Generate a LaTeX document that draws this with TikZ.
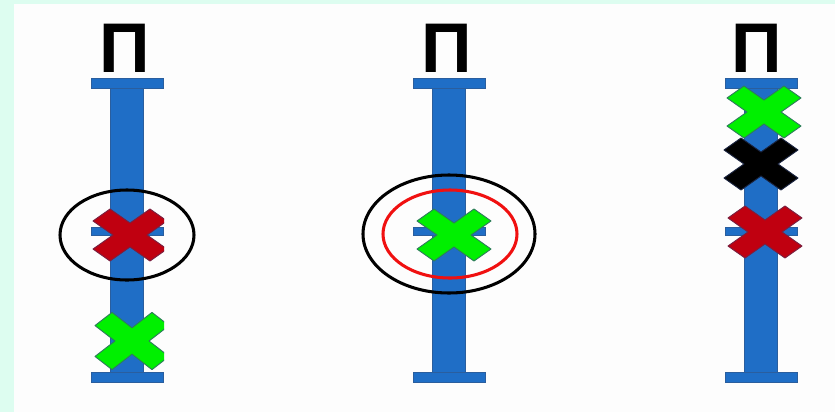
\documentclass[tikz,border=0pt]{standalone}
\definecolor{PanelMint}{HTML}{DDFDF0}
\definecolor{PanelWhite}{HTML}{FDFDFD}
\definecolor{BarBlue}{HTML}{1F6EC6}
\definecolor{BarEdge}{HTML}{2A5E9E}
\definecolor{MarkGreen}{HTML}{00F000}
\definecolor{MarkGreenEdge}{HTML}{2E7D5B}
\definecolor{MarkRed}{HTML}{C00010}
\definecolor{MarkRedEdge}{HTML}{7A2040}
\definecolor{MarkBlack}{HTML}{000000}
\definecolor{MarkBlackEdge}{HTML}{1A2440}
\definecolor{RingRed}{HTML}{F01010}
\usepackage{fontspec}
\setmainfont{Liberation Sans}
\usepackage{tikz}
\usetikzlibrary{positioning,calc}
\tikzset{
    % Blue stands
    stand/.style={
        fill=BarBlue,
        draw=BarEdge,
        line width=0.3pt
    },
    % Letter above each stand
    letter/.style={
        inner sep=0pt,
        anchor=base,
        font=\fontsize{60}{60}\selectfont\bfseries,
        text=black
    },
    % Crosses
    xmark/.pic={
        \filldraw[line width=0.8pt, line join=round]
            (0,0.46*\ymk) -- (0.54*\xmk,\ymk) -- (\xmk,0.54*\ymk) -- (0.46*\xmk,0)
            -- (\xmk,-0.54*\ymk) -- (0.54*\xmk,-\ymk) -- (0,-0.46*\ymk)
            -- (-0.54*\xmk,-\ymk) -- (-\xmk,-0.54*\ymk) -- (-0.46*\xmk,0)
            -- (-\xmk,0.54*\ymk) -- (-0.54*\xmk,\ymk) -- cycle;
    },
    green mark/.style={fill=MarkGreen, draw=MarkGreenEdge},
    red mark/.style={fill=MarkRed, draw=MarkRedEdge},
    black mark/.style={fill=MarkBlack, draw=MarkBlackEdge},
    % Rings
    ring/.style={
        draw=black,
        line width=2.6pt
    },
    ring red/.style={
        ring,
        draw=RingRed
    }
}
\newcommand{\xmk}{37}
\newcommand{\ymk}{26}
% one stand: centre x
\newcommand{\standat}[1]{%
    \fill[stand] (#1-16.5,86) rectangle (#1+16.5,374);
    \fill[stand] (#1-36,78) rectangle (#1+36,88);
    \fill[stand] (#1-36,372) rectangle (#1+36,382);
    \fill[stand] (#1-36,227) rectangle (#1+36,235);
}
\begin{document}
\begin{tikzpicture}[x=0.03cm, y=-0.03cm]
        % Panel
        \fill[PanelMint] (0,0) rectangle (835,412);
        \fill[PanelWhite] (14,4) rectangle (835,412);
        \useasboundingbox (0,0) rectangle (835,412);

        % Letters
        \node[letter] (pe1) at (125,72) {П};
        \node[letter] (pe2) at (447,72) {П};
        \node[letter] (pe3) at (757,72) {П};

        % Stands
        \standat{127}
        \standat{449}
        \standat{761}

        % Left stand
        \draw[ring] (127,235) ellipse [x radius=67, y radius=45];
        \begin{scope}
            \clip (0,0) rectangle (164,412);
            \pic[red mark] (cross1) at (130,235) {xmark};
            \pic[green mark, yscale=1.1] (cross2) at (132,341) {xmark};
        \end{scope}

        % Middle stand
        \draw[ring] (449,234) ellipse [x radius=86, y radius=59];
        \draw[ring red] (450,234) ellipse [x radius=67, y radius=44];
        \pic[green mark] (cross3) at (454,235) {xmark};

        % Right stand
        \pic[green mark] (cross4) at (764,112) {xmark};
        \pic[black mark] (cross5) at (761,164) {xmark};
        \pic[red mark] (cross6) at (765,232) {xmark};
    \end{tikzpicture}
\end{document}
